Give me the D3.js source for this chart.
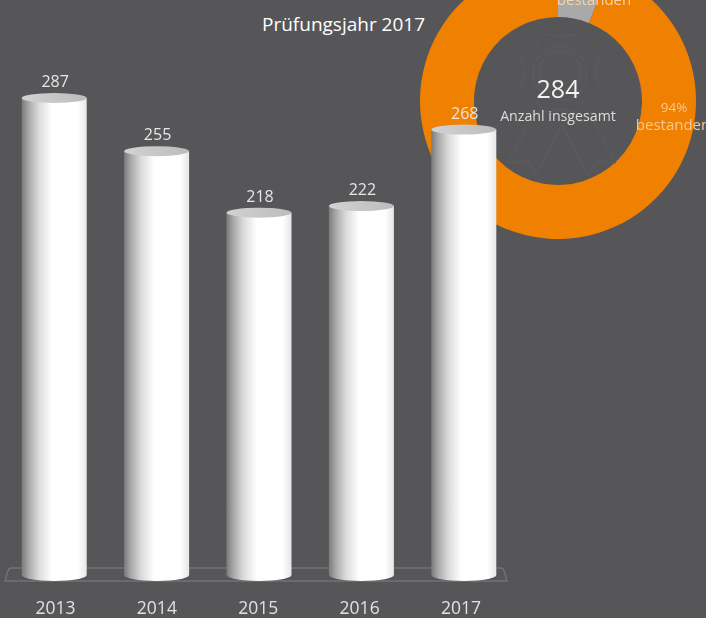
<!DOCTYPE html>
<html>
<head>
<meta charset="utf-8">
<script src="https://cdn.jsdelivr.net/npm/d3@7"></script>
<style>
html, body { margin: 0; padding: 0; background: #565658; overflow: hidden; }
text { font-family: "Open Sans", sans-serif; }
</style>
</head>
<body>
<div id="chart"></div>
<script>
// Chart data
var years = ["2013", "2014", "2015", "2016", "2017"];
var counts = [287, 255, 218, 222, 268];
var resultLabels = ["nicht bestanden", "bestanden"];
var resultShares = [6, 94];
var resultColors = ["#a9a9a9", "#f08000"];
var donutTitle = "Prüfungsjahr 2017";
var donutTotal = 284;
var donutTotalLabel = "Anzahl insgesamt";

var width = 706,
	height = 618;

var svg = d3.select("#chart")
	.append("svg")
	.attr("width", width)
	.attr("height", height)
	.style("display", "block");

var defs = svg.append("defs");

// Body of the cylinders: dark on the left, white in the middle
var bodyGrad = defs.append("linearGradient").attr("id", "cylBody");
bodyGrad.append("stop").attr("offset", "0%").attr("stop-color", "#7a7a7a");
bodyGrad.append("stop").attr("offset", "10%").attr("stop-color", "#a6a6a6");
bodyGrad.append("stop").attr("offset", "26%").attr("stop-color", "#dadada");
bodyGrad.append("stop").attr("offset", "46%").attr("stop-color", "#ffffff");
bodyGrad.append("stop").attr("offset", "86%").attr("stop-color", "#ffffff");
bodyGrad.append("stop").attr("offset", "100%").attr("stop-color", "#e6e6e6");

var capGrad = defs.append("linearGradient").attr("id", "cylCap");
capGrad.append("stop").attr("offset", "0%").attr("stop-color", "#d2d2d2");
capGrad.append("stop").attr("offset", "100%").attr("stop-color", "#bcbcbc");

defs.append("filter").attr("id", "soft")
	.append("feGaussianBlur").attr("stdDeviation", 0.5);

defs.append("filter").attr("id", "softer")
	.append("feGaussianBlur").attr("stdDeviation", 0.6);

// Scales
var x = d3.scaleBand()
	.domain(years)
	.range([3, 515])
	.paddingInner(0.365)
	.paddingOuter(0.1825);

var y = d3.scaleLinear()
	.domain([0, 287])
	.range([575, 98]);

// The year labels sit a little tighter than the bars
var yearX = d3.scalePoint()
	.domain(years)
	.range([55.5, 461]);

drawDonut();
drawPlatform();
drawBars();

function drawDonut() {
	var cx = 558,
		cy = 101;

	var g = svg.append("g").attr("transform", "translate(" + cx + "," + cy + ")");

	var pie = d3.pie().sort(null);
	var arc = d3.arc().innerRadius(84).outerRadius(138);

	g.selectAll("path.slice")
		.data(pie(resultShares))
		.enter()
		.append("path")
		.attr("class", "slice")
		.attr("d", arc)
		.attr("fill", function(d, i) { return resultColors[i]; })
		.attr("filter", "url(#soft)");

	// Faint rosette behind the total
	var badge = g.append("g")
		.attr("fill", "none")
		.attr("stroke", "#5d5d5f")
		.attr("stroke-width", 1)
		.attr("filter", "url(#soft)");
	var scallop = d3.lineRadial()
		.curve(d3.curveCardinalClosed)
		.angle(function(d) { return d * Math.PI / 8; })
		.radius(function(d) { return d % 2 ? 41 : 36; });
	badge.append("path")
		.attr("transform", "translate(2,-28)")
		.attr("d", scallop(d3.range(16)));
	badge.append("circle").attr("cx", 2).attr("cy", -28).attr("r", 27);
	badge.append("circle").attr("cx", 2).attr("cy", -28).attr("r", 21);
	badge.append("path").attr("d", "M-22,8L-50,62L-30,60L-22,74L4,24L30,74L38,60L58,62L28,8");

	g.append("text")
		.attr("x", 0).attr("y", -3)
		.attr("text-anchor", "middle")
		.attr("fill", "#f2f2f2")
		.attr("font-size", 25)
		.attr("filter", "url(#soft)")
		.text(donutTotal);

	g.append("text")
		.attr("x", 0).attr("y", 20)
		.attr("text-anchor", "middle")
		.attr("fill", "#dcdcdc")
		.attr("font-size", 14.2)
		.attr("filter", "url(#soft)")
		.text(donutTotalLabel);

	// Slice labels
	var softOrange = "#f9c994";
	g.append("text")
		.attr("x", 36).attr("y", -96)
		.attr("text-anchor", "middle")
		.attr("fill", "#f7d3a8")
		.attr("font-size", 15)
		.attr("filter", "url(#soft)")
		.text(resultLabels[1]);

	g.append("text")
		.attr("x", 116).attr("y", 11)
		.attr("text-anchor", "middle")
		.attr("fill", softOrange)
		.attr("font-size", 13.5)
		.attr("filter", "url(#soft)")
		.text(resultShares[1] + "%");

	g.append("text")
		.attr("x", 115).attr("y", 29)
		.attr("text-anchor", "middle")
		.attr("fill", softOrange)
		.attr("font-size", 15)
		.attr("filter", "url(#soft)")
		.text(resultLabels[1]);

	svg.append("text")
		.attr("x", 262).attr("y", 31)
		.attr("fill", "#ffffff")
		.attr("font-size", 19)
		.text(donutTitle);
}

function drawPlatform() {
	// Floor plate under the cylinders
	svg.append("path")
		.attr("d", "M11,568H501Q503,568 504,571L507,581H5L8,571Q9,568 11,568Z")
		.attr("fill", "none")
		.attr("stroke", "#737375")
		.attr("stroke-width", 1.3)
		.attr("filter", "url(#soft)");
}

function drawBars() {
	var ry = 6;
	var bars = svg.selectAll("g.bar")
		.data(years)
		.enter()
		.append("g")
		.attr("class", "bar")
		.attr("filter", "url(#softer)");

	bars.append("path")
		.attr("fill", "url(#cylBody)")
		.attr("d", function(d, i) {
			var left = x(d),
				w = x.bandwidth(),
				top = y(counts[i]),
				bottom = y(0);
			return "M" + left + "," + top + "V" + bottom +
				"A" + (w / 2) + "," + ry + " 0 0 0 " + (left + w) + "," + bottom +
				"V" + top + "Z";
		});

	bars.append("ellipse")
		.attr("cx", function(d) { return x(d) + x.bandwidth() / 2; })
		.attr("cy", function(d, i) { return y(counts[i]); })
		.attr("rx", x.bandwidth() / 2)
		.attr("ry", 5)
		.attr("fill", "url(#cylCap)");

	svg.selectAll("text.value")
		.data(counts)
		.enter()
		.append("text")
		.attr("class", "value")
		.attr("x", function(d, i) { return x(years[i]) + x.bandwidth() / 2 + 1; })
		.attr("y", function(d) { return y(d) - 11; })
		.attr("text-anchor", "middle")
		.attr("fill", "#e6e6e6")
		.attr("font-size", 16)
		.attr("filter", "url(#soft)")
		.text(function(d) { return d; });

	svg.selectAll("text.year")
		.data(years)
		.enter()
		.append("text")
		.attr("class", "year")
		.attr("x", function(d) { return yearX(d); })
		.attr("y", 614)
		.attr("text-anchor", "middle")
		.attr("fill", "#e0e0e0")
		.attr("font-size", 17.5)
		.attr("filter", "url(#soft)")
		.text(function(d) { return d; });
}
</script>
</body>
</html>
